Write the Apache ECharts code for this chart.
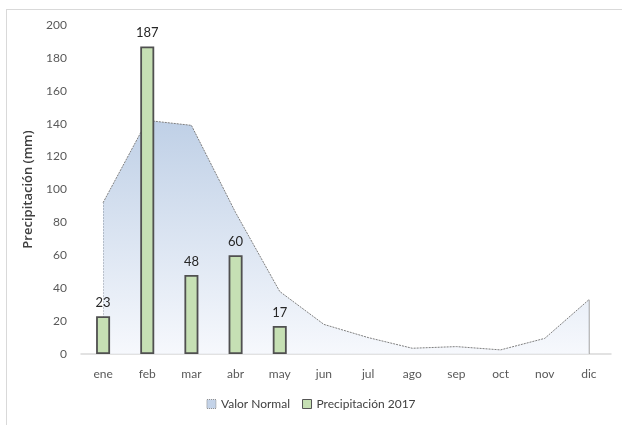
<!DOCTYPE html>
<html>
<head>
<meta charset="utf-8">
<script src="https://cdn.jsdelivr.net/npm/echarts@6/dist/echarts.min.js"></script>
<style>
  html, body { margin: 0; padding: 0; background: #fff; }
  #frame { position: absolute; left: 6px; top: 9px; width: 640px; height: 440px; border: 1px solid #d9d9d9; }
  #chart { position: absolute; left: 0; top: 0; width: 622px; height: 425px; }
</style>
</head>
<body>
<div id="frame"></div>
<div id="chart"></div>
<script>
const months = ['ene', 'feb', 'mar', 'abr', 'may', 'jun', 'jul', 'ago', 'sep', 'oct', 'nov', 'dic']
const valorNormal = [92, 142, 139, 86, 38, 18, 10, 3.5, 4.5, 2.5, 9.5, 33]
const precip2017 = [23, 187, 48, 60, 17, null, null, null, null, null, null, null]
const yTicks = { min: 0, max: 200, interval: 20 }

const chart = echarts.init(document.getElementById('chart'))
chart.setOption({
  animation: false,
  textStyle: { fontFamily: 'Lato, "Open Sans", sans-serif' },
  grid: { left: 81, right: 11, top: 25, bottom: 71 },
  legend: {
    bottom: 10,
    left: 'center',
    itemWidth: 9,
    itemHeight: 9,
    itemGap: 12,
    textStyle: { color: '#404040', fontSize: 12 },
    data: [
      { name: 'Valor Normal', icon: 'rect', itemStyle: { color: '#c4d3e8', borderColor: '#8a8a8a', borderType: 'dotted', borderWidth: 1 } },
      { name: 'Precipitación 2017', icon: 'rect', itemStyle: { color: '#c6e0b4', borderColor: '#555', borderWidth: 1 } }
    ]
  },
  xAxis: {
    type: 'category',
    data: months,
    axisLine: { lineStyle: { color: '#d9d9d9', width: 1.5 } },
    axisTick: { show: false },
    axisLabel: { color: '#595959', fontSize: 12, margin: 14 }
  },
  yAxis: {
    type: 'value',
    min: yTicks.min,
    max: yTicks.max,
    interval: yTicks.interval,
    name: 'Precipitación (mm)',
    nameLocation: 'middle',
    nameGap: 38,
    nameTextStyle: { color: '#404040', fontSize: 13, fontWeight: 600, fontFamily: '"Open Sans", sans-serif' },
    axisLine: { show: false },
    axisTick: { show: false },
    splitLine: { show: false },
    axisLabel: { color: '#595959', fontSize: 12, margin: 14 }
  },
  series: [
    {
      name: 'Valor Normal',
      type: 'line',
      z: 1,
      data: valorNormal,
      symbol: 'none',
      lineStyle: { color: '#7f7f7f', width: 1, type: [2, 1] },
      itemStyle: { color: '#c4d3e8' },
      areaStyle: {
        color: new echarts.graphic.LinearGradient(0, 0, 0, 1, [
          { offset: 0, color: '#a3bbdb' },
          { offset: 1, color: '#f2f5fb' }
        ])
      },
      markLine: {
        silent: true,
        symbol: 'none',
        z: 1,
        label: { show: false },
        data: [
          [{ coord: [months[0], 0], lineStyle: { color: '#8a8a8a', width: 1, type: [2, 1] } }, { coord: [months[0], valorNormal[0]] }],
          [{ coord: [months[11], 0], lineStyle: { color: '#a6a6a6', width: 1.5, type: 'solid' } }, { coord: [months[11], valorNormal[11]] }]
        ]
      }
    },
    {
      name: 'Precipitación 2017',
      type: 'bar',
      z: 5,
      data: precip2017,
      barWidth: 14,
      itemStyle: { color: '#c6e0b4', borderColor: '#505050', borderWidth: 1.8 },
      label: { show: true, position: 'top', distance: 7, color: '#262626', fontSize: 13 }
    }
  ]
})
</script>
</body>
</html>
